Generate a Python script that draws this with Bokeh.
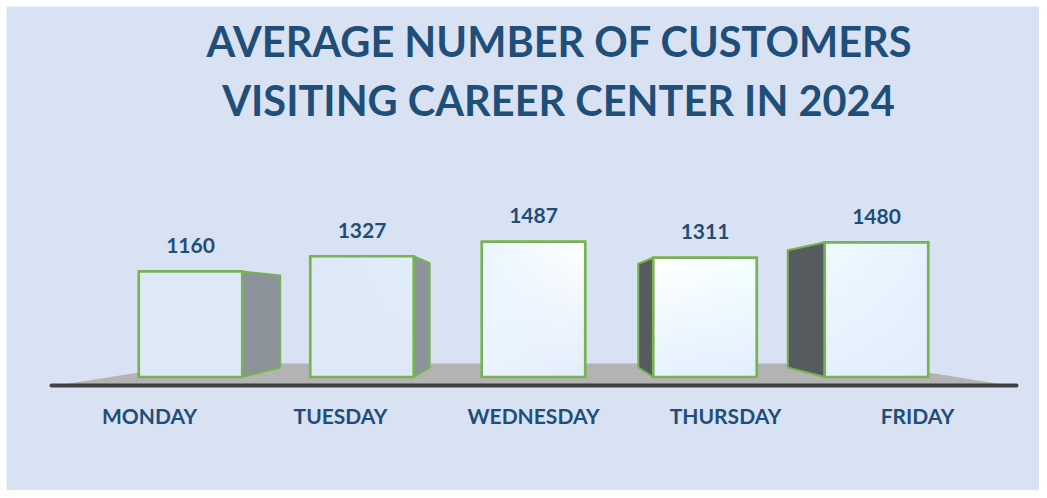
import numpy as np
from bokeh.plotting import figure
from bokeh.embed import file_html
from bokeh.resources import INLINE
from bokeh.core.properties import value
from bokeh.models import Range1d

title_lines = ["AVERAGE NUMBER OF CUSTOMERS", "VISITING CAREER CENTER IN 2024"]
days = ["MONDAY", "TUESDAY", "WEDNESDAY", "THURSDAY", "FRIDAY"]
customers = [1160, 1327, 1487, 1311, 1480]

# layout (picture pixels)
FRAME_L, FRAME_T, FIG_W, FIG_H = 6, 6, 1039, 490
X0, STEP, BAR_W = 190.0, 171.5, 103.5
BASE_PY, PX_PER_UNIT = 376.5, 0.091
side_depth = [38, 16, 0, -15, -37]
side_drop = [4, 7, 0, 6, 8]
label_px = [149, 340, 533, 725, 917]
side_colors = ["#8C939A", "#8C939A", "#8C939A", "#565B60", "#565B60"]
# gradient corners: top-left, top-right, bottom-left, bottom-right
grads = [
    ("#DEE9F8", "#DEE9F8", "#DEE9F8", "#DEE9F8"),
    ("#DDE8F8", "#E2EDFA", "#DEE9F8", "#DEE9F8"),
    ("#EAF6FE", "#FFFFFF", "#E9F4FD", "#E3EDFB"),
    ("#FFFFFF", "#F4FFFF", "#E6F2FE", "#E2EFFD"),
    ("#EEFBFF", "#E6F2FD", "#E4F0FD", "#E2EDFB"),
]
GREEN = "#78B351"
TEXT = "#1F4E79"
BG = "#D9E2F3"

def xd(px): return (px - X0) / STEP
def yd(py): return (BASE_PY - py) / PX_PER_UNIT

def hexrgb(h): return [int(h[i:i+2], 16) for i in (1, 3, 5)]

p = figure(width=FIG_W, height=FIG_H, output_backend="svg", toolbar_location=None,
           x_range=Range1d(xd(FRAME_L), xd(FIG_W)),
           y_range=Range1d(yd(FIG_H), yd(FRAME_T)),
           min_border=0, min_border_left=FRAME_L, min_border_top=FRAME_T,
           x_axis_type=None, y_axis_type=None,
           background_fill_color=BG, border_fill_color="white", outline_line_color=None)
p.grid.visible = False

# floor
p.patch([xd(60), xd(194), xd(872), xd(1005)], [yd(384.5), yd(363), yd(363), yd(384.5)],
        fill_color="#B3B3B3", line_color=None)
p.line([xd(51), xd(1016)], [yd(385), yd(385)], line_color="#404040", line_width=4, line_cap="round")

idx = np.arange(len(days))
cust = np.array(customers, dtype=float)
half = BAR_W / 2 / STEP

# side faces
xs, ys, cols = [], [], []
for i, v in enumerate(customers):
    if side_depth[i] == 0:
        continue
    edge = i + (half if side_depth[i] > 0 else -half)
    back = edge + side_depth[i] / STEP
    xs.append([edge, back, back, edge])
    ys.append([v, v - side_drop[i] / PX_PER_UNIT, yd(367), 0])
    cols.append(side_colors[i])
p.patches(xs, ys, fill_color=cols, line_color=GREEN, line_width=2, line_join="round")

# front faces
N = 24
t = np.linspace(0, 1, N)
for i, v in enumerate(customers):
    tl, tr, bl, br = [np.array(hexrgb(c), float) for c in grads[i]]
    img = np.zeros((N, N), dtype=np.uint32)
    view = img.view(dtype=np.uint8).reshape((N, N, 4))
    for r in range(N):      # row 0 is the bottom of the image
        a = t[r]
        for c in range(N):
            b = t[c]
            col = (1-a)*((1-b)*bl + b*br) + a*((1-b)*tl + b*tr)
            view[r, c, :3] = col.round().astype(np.uint8)
            view[r, c, 3] = 255
    p.image_rgba(image=[img], x=[i - half], y=[0], dw=[2 * half], dh=[v])

p.quad(left=idx - half, right=idx + half, bottom=0, top=cust, fill_alpha=0,
       line_color=GREEN, line_width=2.7, line_join="miter")

# value labels
p.text(x=idx, y=cust, text=[str(v) for v in customers], y_offset=-26,
       text_align="center", text_baseline="middle", text_color=TEXT,
       text_font=value("Lato"), text_font_style="bold", text_font_size="21px")

# category labels
p.text(x=[xd(v) for v in label_px], y=[0] * len(days), text=days, y_offset=38,
       text_align="center", text_baseline="middle", text_color=TEXT,
       text_font=value("Lato"), text_font_style="bold", text_font_size="21px")

# title
p.text(x=[xd(559), xd(558)], y=[yd(40), yd(99)], text=title_lines,
       text_align="center", text_baseline="middle", text_color=TEXT,
       text_font=value("Lato"), text_font_style="bold", text_font_size="41.5px")

open("out.html", "w").write(file_html(p, INLINE))
